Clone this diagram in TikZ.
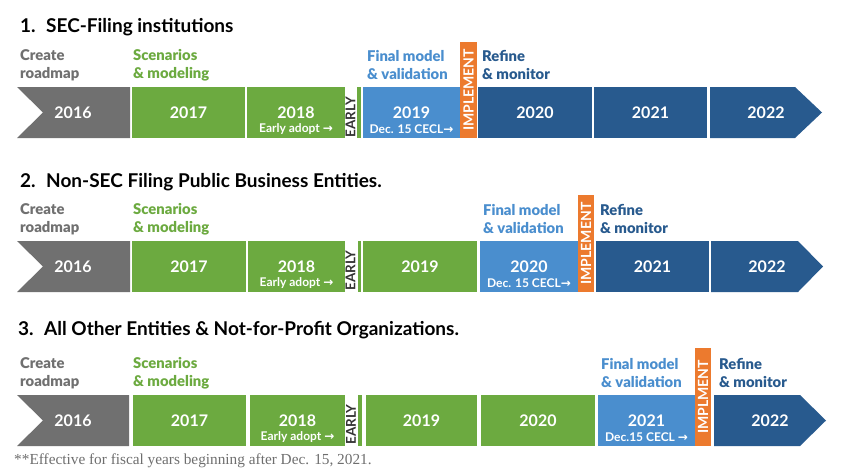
\documentclass[tikz,border=0pt]{standalone}
\usepackage{fontspec}
\setmainfont{Lato}
\newfontfamily\heavyfont{Lato Black}
\newfontfamily\notefont{Liberation Serif}
\newfontfamily\arrowfont{DejaVu Sans}
\usetikzlibrary{positioning}
\definecolor{roadgray}{RGB}{112,112,112}
\definecolor{modgreen}{RGB}{108,170,64}
\definecolor{valblue}{RGB}{74,142,206}
\definecolor{monblue}{RGB}{40,90,142}
\definecolor{implorange}{RGB}{236,122,46}
\definecolor{notegray}{RGB}{110,110,110}
\newcommand{\rarr}{{\arrowfont\bfseries →}}
\tikzset{
  yearbox/.style={rectangle, inner sep=0pt, minimum height=51pt, text=white, font=\fontsize{16}{18}\selectfont\bfseries},
  subnote/.style={text=white, inner sep=0pt, font=\fontsize{12}{13}\selectfont\bfseries},
  stage/.style={anchor=west, align=left, inner sep=0pt, font=\heavyfont\fontsize{14.8}{18}\selectfont},
  rowtitle/.style={anchor=west, inner sep=0pt, font=\fontsize{19}{20}\selectfont\bfseries},
  earlytag/.style={rotate=90, inner sep=0pt, text=black!80, font=\fontsize{13.5}{14}\selectfont\bfseries},
  impltag/.style={rotate=90, inner sep=0pt, text=white, font=\fontsize{14}{15}\selectfont\bfseries},
}
\begin{document}
\begin{tikzpicture}[x=1pt, y=-1pt]
\useasboundingbox (0,0) rectangle (843,472);
% ---- row 1
\node[rowtitle] (t1) at (20,27) {1.\hspace{0.55em}SEC-Filing institutions};
\node[stage, text=roadgray] (c1) at (20,65) {Create\\roadmap};
\node[stage, text=modgreen] (m1) at (133,65) {Scenarios\\\& modeling};
\node[stage, text=valblue] (v1) at (367,65) {Final model\\\& validation};
\node[stage, text=monblue] (f1) at (482,65) {Refine\\\& monitor};
\fill[roadgray] (17,87) -- (130,87) -- (130,138) -- (17,138) -- (43,112.5) -- cycle;
\node[yearbox] (a16) at (73,112.5) {2016};
\node[yearbox, fill=modgreen, minimum width=113pt] (a17) at (188.5,112.5) {2017};
\node[yearbox, fill=modgreen, minimum width=98pt] (a18) at (296,112.5) {2018};
\node[subnote] at ([yshift=-16.5pt]a18.center) {Early adopt \rarr};
\node[earlytag] (ae) at (350.5,117) {EARLY};
\fill[modgreen] (357,87) rectangle (361,138);
\node[yearbox, fill=valblue, minimum width=97pt] (a19) at (411.5,112.5) {2019};
\node[subnote] at ([yshift=-16.5pt]a19.center) {Dec. 15 CECL\rarr};
\fill[implorange] (460,42) rectangle (477,138);
\node[impltag] (ai) at (468.5,90) {IMPLEMENT};
\node[yearbox, fill=monblue, minimum width=114pt] (a20) at (535,112.5) {2020};
\node[yearbox, fill=monblue, minimum width=113pt] (a21) at (650.5,112.5) {2021};
\fill[monblue] (710,87) -- (795,87) -- (822,112.5) -- (795,138) -- (710,138) -- cycle;
\node[yearbox] (a22) at (766,112.5) {2022};
% ---- row 2
\node[rowtitle] (t2) at (20,182) {2.\hspace{0.55em}Non-SEC Filing Public Business Entities.};
\node[stage, text=roadgray] (c2) at (20,219) {Create\\roadmap};
\node[stage, text=modgreen] (m2) at (133,219) {Scenarios\\\& modeling};
\node[stage, text=valblue] (v2) at (483,219) {Final model\\\& validation};
\node[stage, text=monblue] (f2) at (600,219) {Refine\\\& monitor};
\fill[roadgray] (17,241) -- (130,241) -- (130,292) -- (17,292) -- (43,266.5) -- cycle;
\node[yearbox] (b16) at (73,266.5) {2016};
\node[yearbox, fill=modgreen, minimum width=114pt] (b17) at (189,266.5) {2017};
\node[yearbox, fill=modgreen, minimum width=97pt] (b18) at (296.5,266.5) {2018};
\node[subnote] at ([yshift=-16.5pt]b18.center) {Early adopt \rarr};
\node[earlytag] (be) at (350.5,270.5) {EARLY};
\fill[modgreen] (358,241) rectangle (361,292);
\node[yearbox, fill=modgreen, minimum width=114pt] (b19) at (420,266.5) {2019};
\node[yearbox, fill=valblue, minimum width=98pt] (b20) at (529,266.5) {2020};
\node[subnote] at ([yshift=-16.5pt]b20.center) {Dec. 15 CECL\rarr};
\fill[implorange] (578,195) rectangle (594,292);
\node[impltag] (bi) at (586,243.5) {IMPLEMENT};
\node[yearbox, fill=monblue, minimum width=113pt] (b21) at (652.5,266.5) {2021};
\fill[monblue] (711,241) -- (798,241) -- (823,266.5) -- (798,292) -- (711,292) -- cycle;
\node[yearbox] (b22) at (767,266.5) {2022};
% ---- row 3
\node[rowtitle] (t3) at (18,330) {3.\hspace{0.55em}All Other Entities \& Not-for-Profit Organizations.};
\node[stage, text=roadgray] (c3) at (20,373) {Create\\roadmap};
\node[stage, text=modgreen] (m3) at (133,373) {Scenarios\\\& modeling};
\node[stage, text=valblue] (v3) at (601,373) {Final model\\\& validation};
\node[stage, text=monblue] (f3) at (719,373) {Refine\\\& monitor};
\fill[roadgray] (17,395) -- (129,395) -- (129,446) -- (17,446) -- (43,420.5) -- cycle;
\node[yearbox] (c16) at (73,420.5) {2016};
\node[yearbox, fill=modgreen, minimum width=113pt] (c17) at (189.5,420.5) {2017};
\node[yearbox, fill=modgreen, minimum width=95pt] (c18) at (297.5,420.5) {2018};
\node[subnote] at ([yshift=-16.5pt]c18.center) {Early adopt \rarr};
\node[earlytag] (ce) at (351,424.5) {EARLY};
\fill[modgreen] (358,395) rectangle (362,446);
\node[yearbox, fill=modgreen, minimum width=111pt] (c19) at (421.5,420.5) {2019};
\node[yearbox, fill=modgreen, minimum width=114pt] (c20) at (538,420.5) {2020};
\node[yearbox, fill=valblue, minimum width=97pt] (c21) at (646.5,420.5) {2021};
\node[subnote] at ([yshift=-16.5pt]c21.center) {Dec.15 CECL \rarr};
\fill[implorange] (695,348) rectangle (711,446);
\node[impltag] (ci) at (703,397) {IMPLMENT};
\fill[monblue] (714,395) -- (800,395) -- (826,420.5) -- (800,446) -- (714,446) -- cycle;
\node[yearbox] (c22) at (770,420.5) {2022};
% ---- footnote
\node[anchor=west, inner sep=0pt, text=notegray, font=\notefont\fontsize{15.3}{17}\selectfont] (note) at (14,461) {**Effective for fiscal years beginning after Dec. 15, 2021.};
\end{tikzpicture}
\end{document}
